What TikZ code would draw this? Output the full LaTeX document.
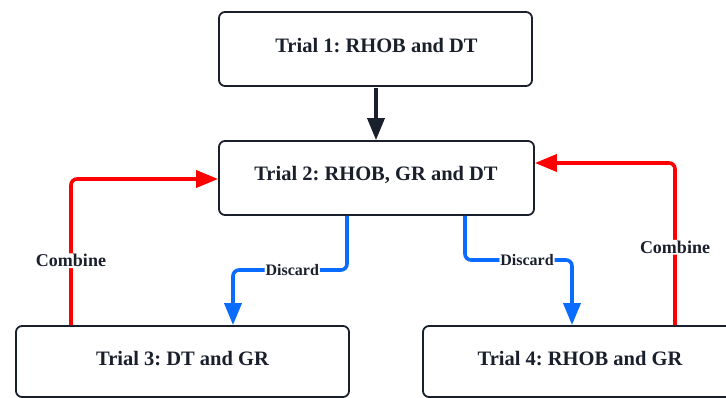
\documentclass[tikz,border=0pt]{standalone}
\usepackage{fontspec}
\setmainfont{Liberation Serif}
\usetikzlibrary{arrows.meta}
\frenchspacing
\definecolor{ink}{HTML}{1A1F2C}
\definecolor{cblue}{HTML}{0A6CFF}
\definecolor{cred}{HTML}{FF0000}
\tikzset{
  trialbox/.style={draw=ink, line width=1.8pt, rounded corners=6pt, fill=white, inner sep=0pt},
  conn/.style={line width=3.6pt, rounded corners=6pt, -{Triangle[length=22pt,width=17pt]}},
  lbl/.style={fill=white, inner sep=1pt, text=ink},
  boxtext/.style={font=\fontsize{20.5}{23}\selectfont\bfseries, text=ink},
}
\begin{document}
\begin{tikzpicture}[x=1pt,y=-1pt]
\useasboundingbox (0,0) rectangle (726,398);
\fill[white] (0,0) rectangle (726,398);
% boxes
\node[trialbox, minimum width=313pt, minimum height=74pt] (t1) at (375.5,49) {};
\node[boxtext] at (376.5,46) {Trial 1: RHOB and DT};
\node[trialbox, minimum width=315pt, minimum height=74pt] (t2) at (376.5,178) {};
\node[boxtext] at (376,175) {Trial 2: RHOB, GR and DT};
\node[trialbox, minimum width=333pt, minimum height=71pt] (t3) at (182.5,361.5) {};
\node[boxtext] at (182.5,359) {Trial 3: DT and GR};
\node[trialbox, minimum width=330pt, minimum height=71pt] (t4) at (588,361.5) {};
\node[boxtext] at (580,359) {Trial 4: RHOB and GR};
% coordinates
\coordinate (a1) at (376,86);
\coordinate (a2) at (376,141);
% black arrow
\draw[conn, draw=ink, shorten <=1pt] (t1.south -| a1) -- (t2.north -| a2);
% red left
\coordinate (rl) at (71,326);
\draw[conn, draw=cred] (t3.north -| rl) |- (t2.west |- 0,179) node[pos=0.22, lbl, font=\fontsize{18}{20}\selectfont\bfseries] {Combine};
% red right
\coordinate (rr) at (675,327);
\draw[conn, draw=cred] (t4.north -| rr) |- (t2.east |- 0,163) node[pos=0.24, lbl, font=\fontsize{18}{20}\selectfont\bfseries] {Combine};
% blue left
\coordinate (bl1) at (347,215);
\coordinate (bl2) at (233,326);
\draw[conn, draw=cblue] (t2.south -| bl1) -- (347,270) -- node[pos=0.48, lbl, font=\fontsize{16}{18}\selectfont\bfseries] {Discard} (233,270) -- (t3.north -| bl2);
% blue right
\coordinate (br1) at (465,215);
\coordinate (br2) at (572,327);
\draw[conn, draw=cblue] (t2.south -| br1) -- (465,260) -- node[pos=0.58, lbl, font=\fontsize{16}{18}\selectfont\bfseries] {Discard} (572,260) -- (t4.north -| br2);
\end{tikzpicture}
\end{document}
